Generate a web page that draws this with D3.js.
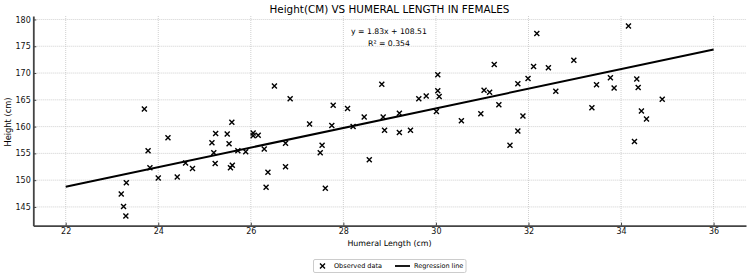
<!DOCTYPE html>
<html>
<head>
<meta charset="utf-8">
<script src="https://cdn.jsdelivr.net/npm/d3@7"></script>
<style>
  body { margin: 0; background: #fff; }
  svg { font-family: "DejaVu Sans", sans-serif; }
</style>
</head>
<body>
<svg id="chart" width="750" height="277"></svg>
<script>
var humeral = [23.20, 23.25, 23.30, 23.31, 23.70, 23.78, 23.82, 24.00, 24.21, 24.41,
               24.59, 24.74, 25.16, 25.20, 25.24, 25.23, 25.49, 25.53, 25.56, 25.59,
               25.60, 25.72, 25.89, 26.05, 26.05, 26.16, 26.29, 26.33, 26.37, 26.51,
               26.75, 26.75, 26.85, 27.27, 27.50, 27.54, 27.61, 27.75, 27.78, 28.09,
               28.21, 28.45, 28.56, 28.83, 28.86, 28.89, 29.21, 29.21, 29.45, 29.63,
               29.79, 30.01, 30.04, 30.04, 30.07, 30.55, 30.97, 31.04, 31.16, 31.26,
               31.36, 31.60, 31.77, 31.77, 31.88, 31.99, 32.11, 32.18, 32.43, 32.59,
               32.98, 33.37, 33.47, 33.77, 33.85, 34.16, 34.29, 34.34, 34.37, 34.44,
               34.55, 34.89]
var height = [147.4, 145.1, 143.3, 149.5, 163.3, 155.5, 152.3, 150.4, 157.9, 150.6,
              153.2, 152.2, 157.0, 155.1, 158.7, 153.1, 158.6, 156.8, 152.3, 160.8,
              152.8, 155.5, 155.3, 158.8, 158.3, 158.4, 155.8, 148.7, 151.5, 167.6,
              156.9, 152.5, 165.2, 160.5, 155.1, 156.5, 148.5, 160.2, 164.0, 163.4,
              160.0, 161.8, 153.8, 167.9, 161.8, 159.3, 162.5, 158.9, 159.3, 165.2,
              165.7, 162.8, 169.7, 166.7, 165.6, 161.1, 162.4, 166.8, 166.4, 171.6,
              164.1, 156.5, 159.2, 168.0, 162.0, 169.0, 171.2, 177.4, 171.0, 166.6,
              172.4, 163.5, 167.8, 169.1, 167.2, 178.8, 157.2, 168.9, 167.3, 162.9,
              161.4, 165.1]

// regression line
var slope = 1.83
var intercept = 108.51
var r2 = 0.354
var lineX = [22, 36]

var xTicks = [22, 24, 26, 28, 30, 32, 34, 36]
var yTicks = [145, 150, 155, 160, 165, 170, 175, 180]

var points = humeral.map((d, i) => [d, height[i]])
var linePts = lineX.map(x => [x, slope * x + intercept])

var dimensions = {
    width: 750,
    height: 277,
    margin: { top: 16, bottom: 51.3, left: 33.3, right: 4 }
}
var plotBottom = dimensions.height - dimensions.margin.bottom
var plotRight = dimensions.width - dimensions.margin.right

var svg = d3.select("#chart")

var xScale = d3.scaleLinear()
        .domain([21.3, 36.7])
        .range([dimensions.margin.left, plotRight])

var yScale = d3.scaleLinear()
        .domain([141.5, 180.65])
        .range([plotBottom, dimensions.margin.top])

// grid
var grid = svg.append("g")
        .attr("stroke", "#c4c4c4")
        .attr("stroke-width", 0.8)
        .attr("stroke-dasharray", "1,1")
grid.selectAll(".gx").data(xTicks).enter().append("line")
        .attr("x1", d => xScale(d)).attr("x2", d => xScale(d))
        .attr("y1", dimensions.margin.top).attr("y2", plotBottom)
grid.selectAll(".gy").data(yTicks).enter().append("line")
        .attr("x1", dimensions.margin.left).attr("x2", plotRight)
        .attr("y1", d => yScale(d)).attr("y2", d => yScale(d))

// axes, ticks point inwards
var xAxis = svg.append("g")
        .attr("transform", `translate(0,${plotBottom})`)
        .call(d3.axisBottom(xScale).tickValues(xTicks).tickSizeInner(-3).tickSizeOuter(0).tickPadding(3))
var yAxis = svg.append("g")
        .attr("transform", `translate(${dimensions.margin.left},0)`)
        .call(d3.axisLeft(yScale).tickValues(yTicks).tickSizeInner(-3).tickSizeOuter(0).tickPadding(2.5))

;[xAxis, yAxis].forEach(a => {
    a.select(".domain").attr("stroke", "#444").attr("stroke-width", 1.8)
    a.selectAll(".tick line").attr("stroke", "#444")
    a.selectAll(".tick text").attr("font-size", 8).attr("fill", "#111")
            .style("font-family", "DejaVu Sans")
})

// regression line
svg.append("path")
        .datum(linePts)
        .attr("fill", "none")
        .attr("stroke", "black")
        .attr("stroke-width", 2)
        .attr("d", d3.line().x(d => xScale(d[0])).y(d => yScale(d[1])))

// observed points
var marker = d3.symbol().type(d3.symbolX).size(18)
svg.append("g")
        .selectAll("path")
        .data(points)
        .enter()
        .append("path")
        .attr("d", marker)
        .attr("transform", d => `translate(${xScale(d[0])},${yScale(d[1])})`)
        .attr("fill", "none")
        .attr("stroke", "black")
        .attr("stroke-width", 1.4)

// titles
svg.append("text")
        .attr("x", 389.5).attr("y", 12.8)
        .attr("text-anchor", "middle")
        .attr("font-size", 10.4)
        .text("Height(CM) VS HUMERAL LENGTH IN FEMALES")

svg.append("text")
        .attr("x", 389).attr("y", 33.5)
        .attr("text-anchor", "middle")
        .attr("font-size", 7.7)
        .text(`y = ${slope.toFixed(2)}x + ${intercept.toFixed(2)}`)
svg.append("text")
        .attr("x", 389).attr("y", 45.8)
        .attr("text-anchor", "middle")
        .attr("font-size", 7.7)
        .text(`R² = ${r2.toFixed(3)}`)

svg.append("text")
        .attr("x", 389.5).attr("y", 246.2)
        .attr("text-anchor", "middle")
        .attr("font-size", 7.9)
        .text("Humeral Length (cm)")

svg.append("text")
        .attr("transform", "rotate(-90)")
        .attr("x", -122).attr("y", 11)
        .attr("text-anchor", "middle")
        .attr("font-size", 8.3)
        .text("Height (cm)")

// legend
var legend = svg.append("g")
legend.append("rect")
        .attr("x", 313.5).attr("y", 259.5)
        .attr("width", 152.5).attr("height", 13)
        .attr("rx", 1.5)
        .attr("fill", "white")
        .attr("stroke", "#ccc")
legend.append("path")
        .attr("d", d3.symbol().type(d3.symbolX).size(18))
        .attr("transform", "translate(322.5,266)")
        .attr("fill", "none").attr("stroke", "black").attr("stroke-width", 1.4)
legend.append("text")
        .attr("x", 334).attr("y", 268.3)
        .attr("font-size", 6.5)
        .text("Observed data")
legend.append("line")
        .attr("x1", 395).attr("x2", 410)
        .attr("y1", 266).attr("y2", 266)
        .attr("stroke", "black").attr("stroke-width", 1.8)
legend.append("text")
        .attr("x", 414).attr("y", 268.3)
        .attr("font-size", 6.5)
        .text("Regression line")
</script>
</body>
</html>
